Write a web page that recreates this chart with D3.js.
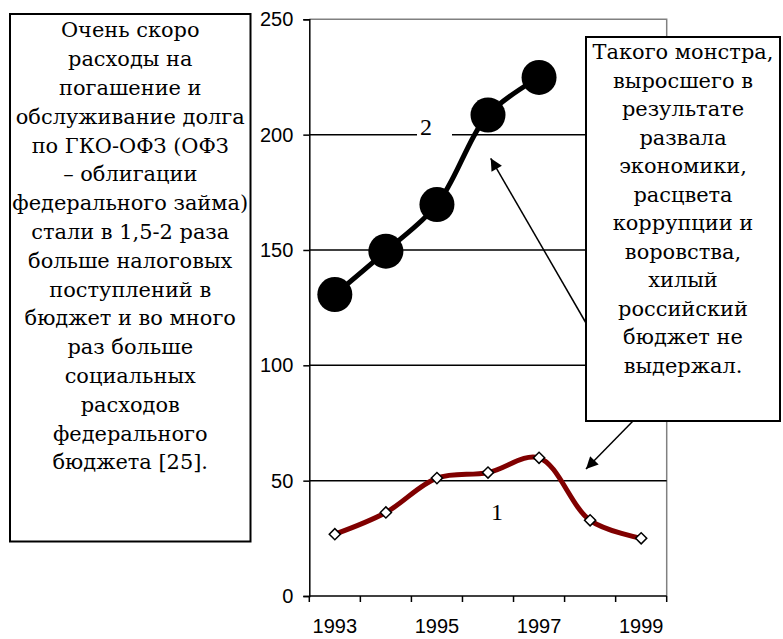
<!DOCTYPE html>
<html>
<head>
<meta charset="utf-8">
<script src="https://cdn.jsdelivr.net/npm/d3@7"></script>
<style>
  body { margin: 0; background: #fff; }
</style>
</head>
<body>
<script>
'use strict';

let years = ['1993', '1994', '1995', '1996', '1997', '1998', '1999'];
let shownYears = ['1993', '1995', '1997', '1999'];
let series1 = [26.8, 36.2, 51.1, 53.5, 59.9, 32.8, 25];
let series2 = [130.7, 149.5, 169.7, 208.5, 224.8];
let yTicks = [0, 50, 100, 150, 200, 250];

let leftNote = [
    'Очень скоро', 'расходы на', 'погашение и', 'обслуживание долга',
    'по ГКО-ОФЗ (ОФЗ', '– облигации', 'федерального займа)', 'стали в 1,5-2 раза',
    'больше налоговых', 'поступлений в', 'бюджет и во много', 'раз больше',
    'социальных', 'расходов', 'федерального', 'бюджета [25].'
];
let rightNote = [
    'Такого монстра,', 'выросшего в', 'результате', 'развала', 'экономики,',
    'расцвета', 'коррупции и', 'воровства,', 'хилый', 'российский',
    'бюджет не', 'выдержал.'
];

let w = 783, h = 639;
let plot = {left: 309.3, right: 666.7, top: 19.3, bottom: 596};
let serif = '"Liberation Serif", "Times New Roman", serif';
let noteFont = '"DejaVu Serif", serif';
let sans = '"Liberation Sans", Arial, sans-serif';

let svg = d3.select('body')
    .append('svg')
    .attr('width', w)
    .attr('height', h);

let x = d3.scaleBand()
    .domain(years)
    .range([plot.left, plot.right]);

let y = d3.scaleLinear()
    .domain([0, 250])
    .range([plot.bottom, plot.top]);

let cx = (year) => x(year) + x.bandwidth() / 2;

// plot frame: grey top and right, black grid lines
svg.append('path')
    .attr('d', `M${plot.left},${y(250)}H${plot.right}V${plot.bottom}`)
    .attr('fill', 'none')
    .attr('stroke', '#808080')
    .attr('stroke-width', 1.5);

svg.selectAll('line.grid')
    .data(yTicks.filter(d => d > 0 && d < 250))
    .enter()
    .append('line')
    .attr('class', 'grid')
    .attr('x1', plot.left)
    .attr('x2', plot.right)
    .attr('y1', d => y(d))
    .attr('y2', d => y(d))
    .attr('stroke', '#000')
    .attr('stroke-width', 1.5);

// y axis
let yAxis = svg.append('g')
    .attr('transform', `translate(${plot.left},0)`)
    .call(d3.axisLeft(y).tickValues(yTicks).tickSize(6).tickPadding(10));

yAxis.select('.domain').attr('stroke', '#000').attr('stroke-width', 1.5);
yAxis.selectAll('.tick line').attr('stroke', '#000').attr('stroke-width', 1.5);
yAxis.selectAll('.tick text')
    .attr('font-family', sans)
    .attr('font-size', '20px')
    .attr('fill', '#000');

// x axis: ticks on the category edges, labels on every other year
svg.append('line')
    .attr('x1', plot.left)
    .attr('x2', plot.right)
    .attr('y1', plot.bottom)
    .attr('y2', plot.bottom)
    .attr('stroke', '#000')
    .attr('stroke-width', 1.5);

svg.selectAll('line.xtick')
    .data(years.concat(['end']))
    .enter()
    .append('line')
    .attr('class', 'xtick')
    .attr('x1', d => d === 'end' ? plot.right : x(d))
    .attr('x2', d => d === 'end' ? plot.right : x(d))
    .attr('y1', plot.bottom)
    .attr('y2', plot.bottom + 6)
    .attr('stroke', '#000')
    .attr('stroke-width', 1.5);

svg.selectAll('text.xlabel')
    .data(shownYears)
    .enter()
    .append('text')
    .attr('class', 'xlabel')
    .text(d => d)
    .attr('x', d => cx(d))
    .attr('y', 633)
    .attr('text-anchor', 'middle')
    .attr('font-family', sans)
    .attr('font-size', '20px');

// series label "2" sits on a white patch that breaks the 200 grid line
svg.append('rect')
    .attr('x', 417)
    .attr('y', 118)
    .attr('width', 35)
    .attr('height', 30)
    .attr('fill', '#fff');

svg.append('text')
    .text('2')
    .attr('x', 426)
    .attr('y', 135)
    .attr('text-anchor', 'middle')
    .attr('font-family', serif)
    .attr('font-size', '24px');

svg.append('text')
    .text('1')
    .attr('x', 497)
    .attr('y', 520)
    .attr('text-anchor', 'middle')
    .attr('font-family', serif)
    .attr('font-size', '24px');

let line = d3.line()
    .x((d, i) => cx(years[i]))
    .y(d => y(d))
    .curve(d3.curveCatmullRom);

// series 1
svg.append('path')
    .attr('d', line(series1))
    .attr('fill', 'none')
    .attr('stroke', '#800000')
    .attr('stroke-width', 5)
    .attr('stroke-linejoin', 'round');

svg.selectAll('path.diamond')
    .data(series1)
    .enter()
    .append('path')
    .attr('class', 'diamond')
    .attr('d', d3.symbol(d3.symbolSquare, 62))
    .attr('transform', (d, i) => `translate(${cx(years[i])},${y(d)}) rotate(45)`)
    .attr('fill', '#fff')
    .attr('stroke', '#000')
    .attr('stroke-width', 1.5);

// series 2
svg.append('path')
    .attr('d', line(series2))
    .attr('fill', 'none')
    .attr('stroke', '#000')
    .attr('stroke-width', 5)
    .attr('stroke-linejoin', 'round');

svg.selectAll('circle.dot')
    .data(series2)
    .enter()
    .append('circle')
    .attr('class', 'dot')
    .attr('cx', (d, i) => cx(years[i]))
    .attr('cy', d => y(d))
    .attr('r', 17.5)
    .attr('fill', '#000');

// pick a note font size so the widest left line just fits the box, as in the original
let probe = svg.append('text')
    .attr('font-family', noteFont)
    .attr('font-size', '20px')
    .text('федерального займа)');
let noteSize = 20 * 236 / probe.node().getComputedTextLength();
probe.remove();

// text boxes
function note(lines, box, firstBaseline, step) {
    svg.append('rect')
        .attr('x', box.x)
        .attr('y', box.y)
        .attr('width', box.w)
        .attr('height', box.h)
        .attr('fill', '#fff')
        .attr('stroke', '#000')
        .attr('stroke-width', 2);

    svg.selectAll(null)
        .data(lines)
        .enter()
        .append('text')
        .text(d => d)
        .attr('x', box.x + box.w / 2)
        .attr('y', (d, i) => firstBaseline + i * step)
        .attr('text-anchor', 'middle')
        .attr('font-family', noteFont)
        .attr('font-size', noteSize + 'px');
}

note(leftNote, {x: 10, y: 14, w: 240.5, h: 527.5}, 37.3, 28.8);
note(rightNote, {x: 586, y: 37, w: 194, h: 384}, 59.3, 28.5);

// arrows from the right box
svg.append('defs')
    .append('marker')
    .attr('id', 'head')
    .attr('viewBox', '0 0 10 10')
    .attr('refX', 10)
    .attr('refY', 5)
    .attr('markerUnits', 'userSpaceOnUse')
    .attr('markerWidth', 16)
    .attr('markerHeight', 12)
    .attr('orient', 'auto')
    .append('path')
    .attr('d', 'M0,0L10,5L0,10Z')
    .attr('fill', '#000');

let arrows = [
    {x1: 586, y1: 323, x2: 490.7, y2: 158.3},
    {x1: 633, y1: 421, x2: 586, y2: 469}
];

svg.selectAll('line.arrow')
    .data(arrows)
    .enter()
    .append('line')
    .attr('class', 'arrow')
    .attr('x1', d => d.x1)
    .attr('y1', d => d.y1)
    .attr('x2', d => d.x2)
    .attr('y2', d => d.y2)
    .attr('stroke', '#000')
    .attr('stroke-width', 1.5)
    .attr('marker-end', 'url(#head)');
</script>
</body>
</html>
